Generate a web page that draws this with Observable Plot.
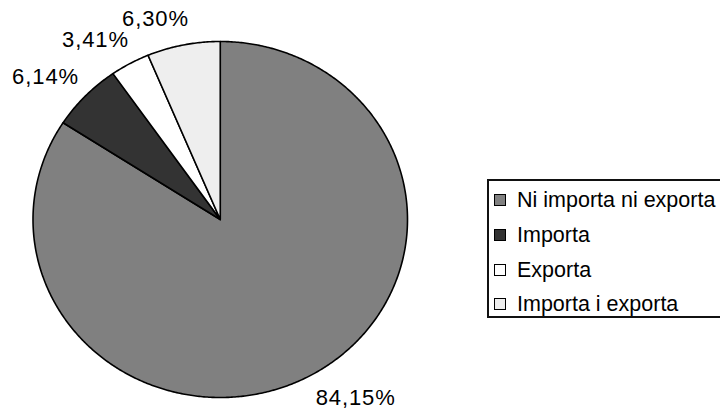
<!DOCTYPE html>
<html>
<head>
<meta charset="utf-8">
<script src="https://cdn.jsdelivr.net/npm/d3@7"></script>
<script src="https://cdn.jsdelivr.net/npm/@observablehq/plot@0.6"></script>
<style>
  html, body { margin: 0; padding: 0; background: #fff; overflow: hidden; }
  #wrap { position: relative; width: 720px; height: 410px; font-family: "Liberation Sans", Arial, sans-serif; }
  #legend { position: absolute; left: 487px; top: 179px; width: 250px; height: 139px; border: 2px solid #111; box-sizing: border-box; background: #fff; }
  .row { position: absolute; left: 5px; height: 24px; display: flex; align-items: center; font-size: 21.5px; color: #000; white-space: nowrap; }
  .sw { width: 10px; height: 10px; border: 1.2px solid #000; margin-right: 11px; flex: none; }
  svg text.lbl { letter-spacing: 0.9px; }
</style>
</head>
<body>
<div id="wrap"></div>
<script>
const categories = ["Ni importa ni exporta", "Importa", "Exporta", "Importa i exporta"];
const values = [84.15, 6.14, 3.41, 6.30];
const colors = ["#808080", "#333333", "#ffffff", "#eeeeee"];

const total = d3.sum(values);
const slices = [];
let acc = 0;
categories.forEach((c, i) => {
  const a0 = acc / total * 2 * Math.PI;
  acc += values[i];
  const a1 = acc / total * 2 * Math.PI;
  const pts = [{x: 0, y: 0}];
  const n = Math.max(2, Math.ceil((a1 - a0) / (Math.PI / 360)));
  for (let k = 0; k <= n; k++) {
    const a = a0 + (a1 - a0) * k / n;
    pts.push({x: Math.sin(a), y: Math.cos(a)});
  }
  pts.push({x: 0, y: 0});
  slices.push({cat: c, value: values[i], color: colors[i], a0, a1, mid: (a0 + a1) / 2, pts});
});

const rx = 187.5, ry = 178;
const off = 23;
const labelMarks = slices.map(s => {
  const sx = Math.sin(s.mid), sy = Math.cos(s.mid);
  const anchor = sx < -0.1 ? "end" : (sx > 0.1 ? "start" : "middle");
  const lab = [{x: sx * (1 + off / rx), y: sy * (1 + off / ry), t: s.value.toFixed(2).replace(".", ",") + "%"}];
  return Plot.text(lab, {x: "x", y: "y", text: "t", textAnchor: anchor, fontSize: 22, fill: "#000",
    dx: anchor === "end" ? 10 : -5, dy: sy > 0 ? -3 : 2, className: "lbl",
    fontFamily: "Liberation Sans, Arial, sans-serif"});
});

const chart = Plot.plot({
  width: 720,
  height: 410,
  margin: 0,
  x: {domain: [-1, 1], range: [32.5, 407], axis: null},
  y: {domain: [-1, 1], range: [397, 41], axis: null},
  marks: [
    ...slices.map(s => Plot.line(s.pts, {x: "x", y: "y", fill: s.color, stroke: "#000", strokeWidth: 1.6, strokeLinejoin: "round"})),
    ...labelMarks
  ]
});
chart.style.fontFamily = "Liberation Sans, Arial, sans-serif";
chart.querySelectorAll("g[aria-label='text'] text").forEach(t => t.classList.add("lbl"));
const wrap = document.getElementById("wrap");
wrap.appendChild(chart);

const legend = document.createElement("div");
legend.id = "legend";
const rowCenters = [198, 233, 268, 302];
categories.forEach((c, i) => {
  const r = document.createElement("div");
  r.className = "row";
  r.style.top = (rowCenters[i] - 12 - 179 - 2 + 2) + "px";
  const sw = document.createElement("span");
  sw.className = "sw";
  sw.style.background = colors[i];
  const t = document.createElement("span");
  t.textContent = c;
  r.appendChild(sw);
  r.appendChild(t);
  legend.appendChild(r);
});
wrap.appendChild(legend);
</script>
</body>
</html>
